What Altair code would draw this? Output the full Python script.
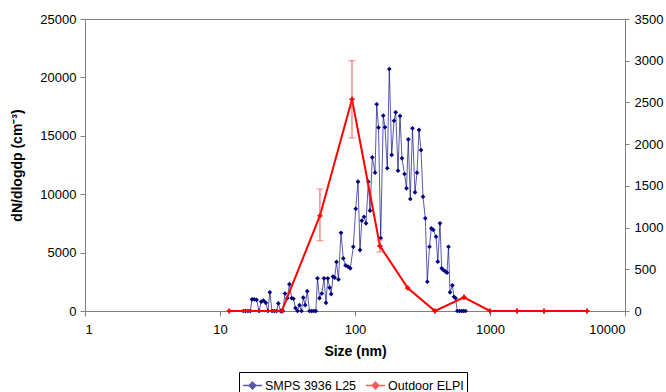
import altair as alt
import pandas as pd

FONT = "Liberation Sans"

# SMPS 3936 L25 (left axis)
smps_size = [14.88, 15.47, 16.12, 16.77, 17.26, 17.95, 18.67, 19.45, 20.20, 21.00,
             21.84, 22.68, 23.39, 24.28, 25.25, 26.27, 27.04, 28.07, 29.20, 30.30,
             31.51, 32.66, 33.97, 35.02, 36.24, 37.50, 38.80, 40.14, 41.40, 42.76,
             44.32, 46.01, 47.77, 49.51, 51.23, 52.74, 54.57, 56.76, 58.93, 60.97,
             62.87, 64.83, 66.62, 68.70, 70.72, 72.93, 75.46, 78.75, 81.90, 85.17,
             88.73, 92.28, 97.14, 101.2, 105.3, 108.9, 112.3, 116.6, 120.7, 125.5,
             129.2, 134.3, 140.7, 144.8, 149.3, 155.0, 162.0, 166.8, 173.5, 179.5,
             187.0, 194.5, 200.2, 208.2, 215.4, 222.9, 232.6, 240.7, 248.2, 256.8,
             266.6, 278.3, 288.0, 298.0, 308.3, 318.9, 331.7, 343.2, 356.3, 367.4,
             380.2, 398.1, 410.5, 426.2, 438.7, 450.9, 466.5, 480.2, 492.7, 505.5,
             526.6, 541.2, 555.2, 572.6, 594.5, 615.0, 636.4, 658.5]
smps_conc = [0, 0, 0, 0, 1000, 1000, 950, 0, 800, 900,
             700, 0, 1600, 0, 0, 0, 650, 0, 0, 1500,
             1100, 2300, 1100, 1050, 250, 0, 500, 0, 1150, 500,
             1700, 0, 0, 0, 0, 2800, 1100, 1500, 2800, 700,
             2800, 2000, 1450, 2950, 2850, 4200, 2700, 6700, 4500, 3900,
             3800, 3650, 5500, 8750, 11070, 5220, 7730, 8070, 7510, 11070,
             8590, 13160, 11840, 17700, 15700, 6250, 16720, 15730, 12220, 20720,
             13360, 16290, 17010, 12010, 16700, 13070, 11730, 10500, 14700, 9590,
             15640, 10160, 11840, 15500, 13780, 9790, 7940, 2510, 5500, 7080,
             6940, 6360, 4220, 7510, 3650, 3510, 3400, 3280, 5500, 1600,
             2200, 1220, 1100, 0, 0, 0, 0, 0]

# Outdoor ELPI (right axis)
elpi_size = [11.7, 28.7, 55.0, 95.0, 153.0, 246.0, 391.0, 642.0, 1000.0, 1585.0, 2512.0, 5230.0]
elpi_conc = [0, 0, 1142, 2538, 779, 276, 0, 164, 0, 0, 0, 0]

# ELPI error bars
err_size = [55.0, 95.0, 153.0]
err_low = [842, 2074, 707]
err_high = [1462, 3000, 851]

x_ticks = [1, 10, 100, 1000, 10000]
left_ticks = [0, 5000, 10000, 15000, 20000, 25000]
right_ticks = [0, 500, 1000, 1500, 2000, 2500, 3000, 3500]
series_names = ["SMPS 3936 L25", "Outdoor ELPI"]
series_colors = ["#000080", "#FF0000"]

smps = pd.DataFrame({"size": smps_size, "conc": smps_conc, "series": series_names[0]})
elpi = pd.DataFrame({"size": elpi_size, "conc": elpi_conc, "series": series_names[1]})
err = pd.DataFrame({"size": err_size, "lo": err_low, "hi": err_high})

xscale = alt.Scale(type="log", domain=[1, 10000])
xaxis = alt.Axis(values=x_ticks, format="d", title="Size (nm)", grid=False,
                 tickSize=5, labelPadding=7, titlePadding=8)
X = alt.X("size:Q", scale=xscale, axis=xaxis)

color = alt.Color(
    "series:N",
    scale=alt.Scale(domain=series_names, range=series_colors),
    legend=alt.Legend(
        title=None, orient="none", legendX=154, legendY=353, direction="horizontal",
        strokeColor="black", padding=3, labelFontSize=12.5, labelFont=FONT,
        labelColor="black", columnPadding=6, labelOffset=2,
        symbolType="M-1,0L1,0M0,-0.35L0.35,0L0,0.35L-0.35,0Z",
        symbolStrokeWidth=1.5, symbolSize=360,
    ),
)

yleft = alt.Y("conc:Q", scale=alt.Scale(domain=[0, 25000]),
              axis=alt.Axis(values=left_ticks, format="d", title="dN/dlogdp (cm⁻³)", grid=False,
                            tickSize=5, labelPadding=4, titlePadding=15))
right_axis = alt.Axis(orient="right", values=right_ticks, format="d", title="", grid=False,
                      tickSize=4, labelPadding=5)
right_scale = alt.Scale(domain=[0, 3500])
yright = alt.Y("conc:Q", scale=right_scale, axis=right_axis)

blue_line = alt.Chart(smps).mark_line(strokeWidth=1, opacity=0.65).encode(x=X, y=yleft, color=color)
blue_pts = alt.Chart(smps).mark_point(shape="diamond", filled=True, size=22, opacity=1).encode(
    x=X, y=yleft, color=color)
blue = alt.layer(blue_line, blue_pts)

red_line = alt.Chart(elpi).mark_line(strokeWidth=2).encode(x=X, y=yright, color=color)
red_pts = alt.Chart(elpi).mark_point(shape="cross", filled=True, size=25, opacity=1).encode(
    x=X, y=yright, color=color)
err_rule = alt.Chart(err).mark_rule(strokeWidth=1, color="#F05050").encode(
    x=X, y=alt.Y("lo:Q", scale=right_scale, axis=right_axis), y2="hi:Q")
cap_lo = alt.Chart(err).mark_tick(orient="horizontal", size=7, thickness=1, color="#F05050").encode(
    x=X, y=alt.Y("lo:Q", scale=right_scale, axis=right_axis))
cap_hi = alt.Chart(err).mark_tick(orient="horizontal", size=7, thickness=1, color="#F05050").encode(
    x=X, y=alt.Y("hi:Q", scale=right_scale, axis=right_axis))
red = alt.layer(red_line, err_rule, cap_lo, cap_hi, red_pts)

chart = alt.layer(blue, red).resolve_scale(y="independent").properties(
    width=540, height=292,
    autosize=alt.AutoSizeParams(type="none"),
    padding={"left": 85, "top": 19, "right": 41, "bottom": 81},
).configure_axis(
    labelFont=FONT, titleFont=FONT, labelFontSize=13, titleFontSize=14,
    labelColor="black", titleColor="black", titleFontWeight="bold",
    domainColor="#808080", tickColor="#808080",
).configure_view(stroke="#808080", strokeWidth=1)

chart.save("out.html", embed_options={"renderer": "svg", "actions": False})
